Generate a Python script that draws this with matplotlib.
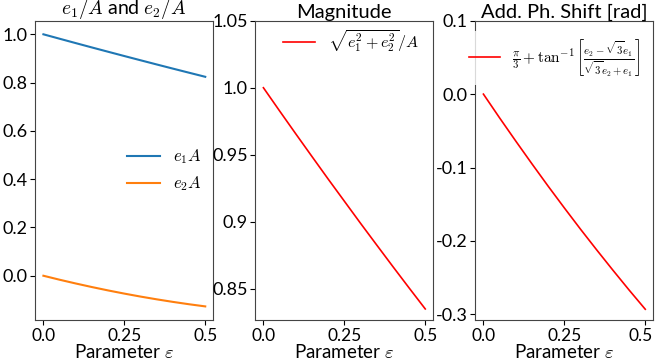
import matplotlib
matplotlib.use("Agg")
import matplotlib.pyplot as plt
import matplotlib.transforms as mtransforms

plt.rcParams['font.family'] = ['Lato', 'DejaVu Sans']
plt.rcParams['mathtext.fontset'] = 'cm'
plt.rcParams['axes.unicode_minus'] = False

# ---- data ----
eps = [0.0, 0.05, 0.10, 0.15, 0.20, 0.25, 0.30, 0.35, 0.40, 0.45, 0.50]
e1_over_A = [1.0, 0.9817, 0.9635, 0.9455, 0.9277, 0.910, 0.8925, 0.8751, 0.8579, 0.8409, 0.824]
e2_over_A = [0.0, -0.0165, -0.0321, -0.0469, -0.0609, -0.0740, -0.0863, -0.0977, -0.1083, -0.1181, -0.127]
magnitude = [1.0, 0.9827, 0.9656, 0.9487, 0.9319, 0.9154, 0.8989, 0.8827, 0.8666, 0.8507, 0.835]
phase_shift = [0.0, -0.0324, -0.0640, -0.0950, -0.1254, -0.155, -0.1840, -0.2122, -0.2398, -0.2668, -0.293]

xticks = [0.0, 0.25, 0.5]
xticklabels = ["0.0", "0.25", "0.5"]
yticks1 = [0.0, 0.2, 0.4, 0.6, 0.8, 1.0]
yticklabels1 = ["0.0", "0.2", "0.4", "0.6", "0.8", "1.0"]
yticks2 = [0.85, 0.90, 0.95, 1.00, 1.05]
yticklabels2 = ["0.85", "0.9", "0.95", "1.0", "1.05"]
yticks3 = [-0.3, -0.2, -0.1, 0.0, 0.1]
yticklabels3 = ["-0.3", "-0.2", "-0.1", "0.0", "0.1"]

titles = [r"$e_1/A$ and $e_2/A$", "Magnitude", "Add. Ph. Shift [rad]"]
title_sizes = [14, 14.5, 14.5]
title_pads = [0, 1, 1]
xlabel = r"Parameter $\varepsilon$"

fig = plt.figure(figsize=(6.55, 3.6), dpi=100)
bottom, height, width = 0.1111, 0.8314, 0.2718
lefts = [0.0539, 0.3898, 0.7257]
axes = [fig.add_axes([l, bottom, width, height]) for l in lefts]

ax1, ax2, ax3 = axes
ax1.plot(eps, e1_over_A, color='#1f77b4', lw=1.5, label=r"$e_1A$")
ax1.plot(eps, e2_over_A, color='#ff7f0e', lw=1.5, label=r"$e_2A$")
ax1.set_yticks(yticks1)
ax1.set_yticklabels(yticklabels1)
ax1.legend(loc='center right', frameon=False, fontsize=12, handlelength=2.0,
           bbox_to_anchor=(1.02, 0.50))

ax2.plot(eps, magnitude, color='red', lw=1.2, label=r"$\sqrt{e_1^2+e_2^2}/A$")
ax2.set_ylim(top=1.05)
ax2.set_yticks(yticks2)
ax2.set_yticklabels(yticklabels2)
ax2.legend(loc='upper right', frameon=False, fontsize=11.5, handlelength=2.0,
           bbox_to_anchor=(1.0, 1.025))

ax3.plot(eps, phase_shift, color='red', lw=1.2,
         label=r"$\frac{\pi}{3}+\tan^{-1}\left[\frac{e_2-\sqrt{3}e_1}{\sqrt{3}e_2+e_1}\right]$")
ax3.set_ylim(top=0.1)
ax3.set_yticks(yticks3)
ax3.set_yticklabels(yticklabels3)
leg3 = ax3.legend(loc='upper right', fontsize=11, handlelength=2.0, framealpha=0.8,
                  bbox_to_anchor=(1.0, 0.99))
leg3.get_frame().set_edgecolor('none')

for ax, t, ts, tp in zip(axes, titles, title_sizes, title_pads):
    ax.set_title(t, fontsize=ts, pad=tp)
    ax.set_xticks(xticks)
    ax.set_xticklabels(xticklabels)
    ax.set_xlabel(xlabel, fontsize=13.5, labelpad=-0.5)
    ax.tick_params(labelsize=13, pad=2)
    ax.tick_params(axis='x', labelsize=12.5)
    for s in ax.spines.values():
        s.set_color('#444444')

# nudge the rightmost tick label slightly left so it stays inside the figure
last = ax3.get_xticklabels()[-1]
last.set_transform(last.get_transform() +
                   mtransforms.ScaledTranslation(-3 / 72, 0, fig.dpi_scale_trans))

fig.savefig("out.png", dpi=100)
